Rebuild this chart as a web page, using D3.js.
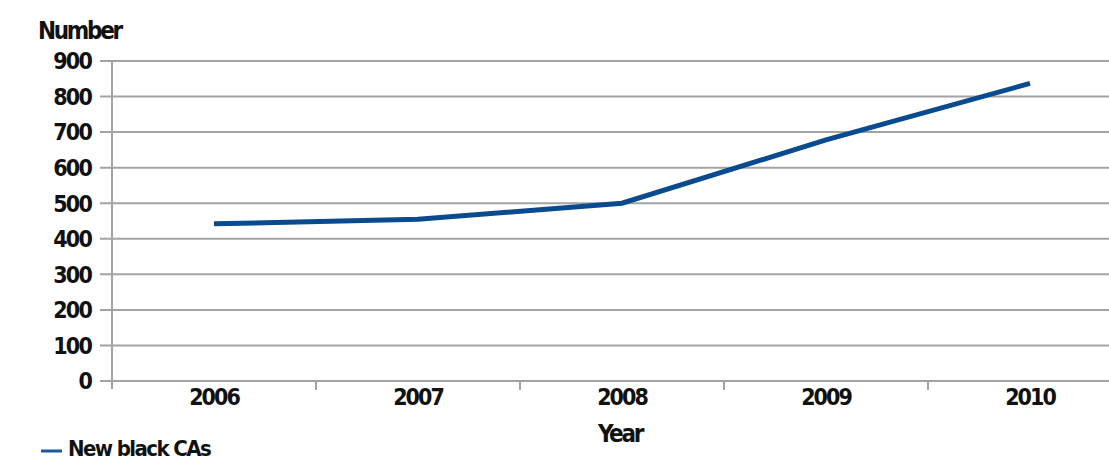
<!DOCTYPE html>
<html>
<head>
<meta charset="utf-8">
<script src="https://cdn.jsdelivr.net/npm/d3@7"></script>
<style>
  html, body { margin: 0; padding: 0; background: #fff; overflow: hidden; }
  svg { display: block; }
  text { font-family: "Liberation Sans Narrow", "DejaVu Sans Condensed", "Liberation Sans", sans-serif; font-weight: bold; fill: #111; }
</style>
</head>
<body>
<svg id="chart" width="1109" height="462"></svg>
<script>
// Yearly count of new black CAs
const years = ["2006", "2007", "2008", "2009", "2010"];
const newBlackCAs = [442, 455, 500, 678, 837];
const yTicks = [0, 100, 200, 300, 400, 500, 600, 700, 800, 900];
const seriesName = "New black CAs";

const svg = d3.select("#chart");
const plotLeft = 112, plotRight = 1132, plotTop = 61, plotBottom = 381;

const x = d3.scaleBand().domain(years).range([plotLeft, plotRight]);
const y = d3.scaleLinear().domain([0, 900]).range([plotBottom, plotTop]);

const gridColor = "#a3a3a3";

// horizontal gridlines with short ticks left of the axis
svg.append("g")
  .selectAll("line")
  .data(yTicks)
  .join("line")
  .attr("x1", plotLeft - 12)
  .attr("x2", 1109)
  .attr("y1", d => y(d))
  .attr("y2", d => y(d))
  .attr("stroke", gridColor)
  .attr("stroke-width", 2);

// y axis line
svg.append("line")
  .attr("x1", plotLeft).attr("x2", plotLeft)
  .attr("y1", y(900)).attr("y2", plotBottom + 8)
  .attr("stroke", gridColor).attr("stroke-width", 2);

// category boundary ticks on the x axis
svg.append("g")
  .selectAll("line")
  .data(years.slice(1))
  .join("line")
  .attr("x1", d => x(d)).attr("x2", d => x(d))
  .attr("y1", plotBottom).attr("y2", plotBottom + 9)
  .attr("stroke", gridColor).attr("stroke-width", 2);

// y tick labels
svg.append("g")
  .selectAll("text")
  .data(yTicks)
  .join("text")
  .attr("x", 91)
  .attr("y", d => y(d))
  .attr("dy", "0.36em")
  .attr("text-anchor", "end")
  .style("font-size", "23px")
  .style("letter-spacing", "-1.8px")
  .text(d => d);

// x tick labels
svg.append("g")
  .selectAll("text")
  .data(years)
  .join("text")
  .attr("x", d => x(d) + x.bandwidth() / 2)
  .attr("y", 405)
  .attr("text-anchor", "middle")
  .style("font-size", "23px")
  .style("letter-spacing", "-2px")
  .text(d => d);

// axis titles
svg.append("text")
  .attr("x", 38).attr("y", 39)
  .style("font-size", "24px")
  .style("letter-spacing", "-2.3px")
  .text("Number");

svg.append("text")
  .attr("x", (plotLeft + plotRight) / 2 - 2).attr("y", 442)
  .attr("text-anchor", "middle")
  .style("font-size", "24px")
  .style("letter-spacing", "-2.3px")
  .text("Year");

// data line
const line = d3.line()
  .x((d, i) => x(years[i]) + x.bandwidth() / 2)
  .y(d => y(d));

svg.append("path")
  .datum(newBlackCAs)
  .attr("d", line)
  .attr("fill", "none")
  .attr("stroke", "#0a4b8f")
  .attr("stroke-width", 5);

// legend
svg.append("line")
  .attr("x1", 41).attr("x2", 62)
  .attr("y1", 451).attr("y2", 451)
  .attr("stroke", "#1a5aa0").attr("stroke-width", 3);

svg.append("text")
  .attr("x", 68).attr("y", 456)
  .style("font-size", "22px")
  .style("letter-spacing", "-1.6px")
  .text(seriesName);
</script>
</body>
</html>
